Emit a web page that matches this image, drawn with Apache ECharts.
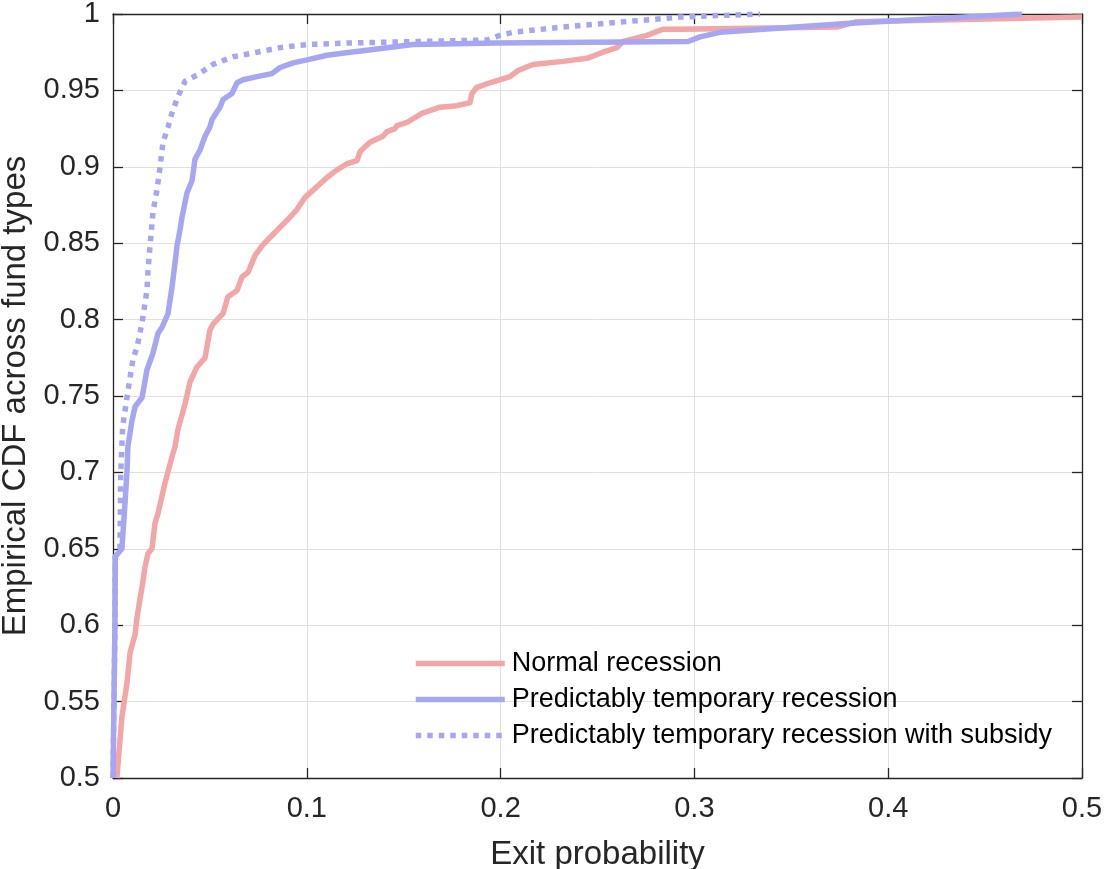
<!DOCTYPE html>
<html>
<head>
<meta charset="utf-8">
<script src="https://cdn.jsdelivr.net/npm/echarts@6/dist/echarts.min.js"></script>
<style>
  html, body { margin: 0; padding: 0; background: #ffffff; }
  #chart { width: 1104px; height: 869px; }
</style>
</head>
<body>
<div id="chart"></div>
<script>
// ---- Data ----
const seriesNames = [
  'Normal recession',
  'Predictably temporary recession',
  'Predictably temporary recession with subsidy'
];

const normalX = [0.0020, 0.0046, 0.0072, 0.0088, 0.0114, 0.0124, 0.0139, 0.0150, 0.0165, 0.0181,
  0.0201, 0.0217, 0.0232, 0.0268, 0.0304, 0.0320, 0.0335, 0.0372, 0.0397, 0.0433,
  0.0475, 0.0500, 0.0516, 0.0568, 0.0593, 0.0640, 0.0666, 0.0697, 0.0733, 0.0774,
  0.0851, 0.0898, 0.0949, 0.0991, 0.1053, 0.1104, 0.1156, 0.1207, 0.1259, 0.1275,
  0.1326, 0.1393, 0.1414, 0.1455, 0.1465, 0.1517, 0.1594, 0.1687, 0.1775, 0.1842,
  0.1852, 0.1878, 0.1945, 0.2048, 0.2090, 0.2167, 0.2322, 0.2446, 0.2528, 0.2600,
  0.2632, 0.2755, 0.2838, 0.2926, 0.3736, 0.3839, 0.5000];
const normalY = [0.500, 0.540, 0.562, 0.582, 0.594, 0.605, 0.617, 0.625, 0.638, 0.647,
  0.650, 0.667, 0.673, 0.693, 0.710, 0.717, 0.728, 0.745, 0.759, 0.769,
  0.775, 0.793, 0.797, 0.804, 0.815, 0.819, 0.828, 0.831, 0.842, 0.849,
  0.859, 0.865, 0.872, 0.880, 0.887, 0.893, 0.898, 0.902, 0.904, 0.910,
  0.916, 0.920, 0.923, 0.925, 0.927, 0.929, 0.935, 0.939, 0.940, 0.942,
  0.948, 0.952, 0.955, 0.959, 0.963, 0.967, 0.969, 0.971, 0.975, 0.978,
  0.982, 0.986, 0.990, 0.990, 0.9915, 0.995, 0.998];

const tempX = [0.0000, 0.0010, 0.0012, 0.0046, 0.0062, 0.0072, 0.0077, 0.0098, 0.0114, 0.0150,
  0.0175, 0.0206, 0.0232, 0.0253, 0.0284, 0.0304, 0.0320, 0.0330, 0.0346, 0.0356,
  0.0382, 0.0408, 0.0423, 0.0449, 0.0475, 0.0500, 0.0511, 0.0552, 0.0568, 0.0614,
  0.0640, 0.0671, 0.0743, 0.0820, 0.0862, 0.0929, 0.1001, 0.1104, 0.1223, 0.1290,
  0.1548, 0.1981, 0.2967, 0.3029, 0.3132, 0.3803, 0.4690];
const tempY = [0.500, 0.600, 0.645, 0.650, 0.680, 0.700, 0.717, 0.734, 0.743, 0.749,
  0.767, 0.778, 0.791, 0.795, 0.804, 0.821, 0.837, 0.848, 0.859, 0.867,
  0.883, 0.891, 0.905, 0.911, 0.920, 0.926, 0.931, 0.939, 0.944, 0.948,
  0.955, 0.957, 0.959, 0.961, 0.965, 0.968, 0.970, 0.973, 0.975, 0.976,
  0.980, 0.981, 0.982, 0.985, 0.988, 0.994, 1.000];

const subsidyX = [0.0000, 0.0010, 0.0012, 0.0036, 0.0040, 0.0050, 0.0072, 0.0088, 0.0103, 0.0124,
  0.0139, 0.0155, 0.0175, 0.0181, 0.0191, 0.0206, 0.0227, 0.0243, 0.0258, 0.0284,
  0.0304, 0.0335, 0.0372, 0.0433, 0.0516, 0.0619, 0.0743, 0.0862, 0.1001, 0.1207,
  0.1930, 0.1997, 0.2064, 0.2322, 0.2926, 0.3339];
const subsidyY = [0.500, 0.600, 0.645, 0.650, 0.700, 0.730, 0.749, 0.762, 0.774, 0.782,
  0.791, 0.802, 0.819, 0.833, 0.848, 0.870, 0.885, 0.900, 0.916, 0.926,
  0.935, 0.946, 0.956, 0.960, 0.967, 0.972, 0.975, 0.978, 0.980, 0.981,
  0.983, 0.986, 0.988, 0.9915, 0.998, 1.000];

const xTicks = { min: 0, max: 0.5, interval: 0.1 };
const yTicks = { min: 0.5, max: 1, interval: 0.05 };
const axisTitles = { x: 'Exit probability', y: 'Empirical CDF across fund types' };

// ---- Build ----
const zip = (xs, ys) => xs.map((x, i) => [x, ys[i]]);
const FONT = '"Liberation Sans", Arial, Helvetica, sans-serif';
const AX = '#262626';
const RED = '#F2A6A6';
const BLUE = '#A6A6F2';
const LW = 5.5;

const chart = echarts.init(document.getElementById('chart'), null, { renderer: 'canvas' });

const baseAxis = (t) => ({
  type: 'value',
  min: t.min, max: t.max, interval: t.interval,
  axisLine: { show: true, onZero: false, lineStyle: { color: AX, width: 1.3 } },
  axisTick: { show: true, inside: true, length: 10, lineStyle: { color: AX, width: 1.3 } }
});

chart.setOption({
  animation: false,
  backgroundColor: '#ffffff',
  grid: { left: 113, right: 22, top: 14, bottom: 91, containLabel: false, outerBoundsMode: 'none' },
  xAxis: [
    Object.assign(baseAxis(xTicks), {
      position: 'bottom',
      name: axisTitles.x, nameLocation: 'middle', nameGap: 60,
      nameTextStyle: { fontFamily: FONT, fontSize: 33, color: AX },
      axisLabel: { fontFamily: FONT, fontSize: 29, color: AX, margin: 16 },
      splitLine: { show: true, lineStyle: { color: '#e0e0e0', width: 1 } }
    }),
    Object.assign(baseAxis(xTicks), {
      position: 'top',
      axisLabel: { show: false },
      splitLine: { show: false }
    })
  ],
  yAxis: [
    Object.assign(baseAxis(yTicks), {
      position: 'left',
      name: axisTitles.y, nameLocation: 'middle', nameGap: 73, nameRotate: 90,
      nameTextStyle: { fontFamily: FONT, fontSize: 33, color: AX },
      axisLabel: { fontFamily: FONT, fontSize: 29, color: AX, margin: 13 },
      splitLine: { show: true, lineStyle: { color: '#e0e0e0', width: 1 } }
    }),
    Object.assign(baseAxis(yTicks), {
      position: 'right',
      axisLabel: { show: false },
      splitLine: { show: false }
    })
  ],
  legend: {
    orient: 'vertical',
    left: 413, top: 650,
    itemWidth: 89, itemHeight: 26, itemGap: 9,
    padding: 0,
    data: seriesNames,
    itemStyle: { opacity: 0 },
    lineStyle: { width: LW },
    textStyle: { fontFamily: FONT, fontSize: 27, color: '#000000', lineHeight: 26, padding: [0, 0, 0, 2] }
  },
  series: [
    {
      name: seriesNames[0], type: 'line', data: zip(normalX, normalY),
      symbol: 'none', showSymbol: false, xAxisIndex: 0, yAxisIndex: 0,
      lineStyle: { color: RED, width: LW, join: 'round' }, itemStyle: { color: RED }, z: 3
    },
    {
      name: seriesNames[1], type: 'line', data: zip(tempX, tempY),
      symbol: 'none', showSymbol: false, xAxisIndex: 0, yAxisIndex: 0,
      lineStyle: { color: BLUE, width: LW, join: 'round' }, itemStyle: { color: BLUE }, z: 4
    },
    {
      name: seriesNames[2], type: 'line', data: zip(subsidyX, subsidyY),
      symbol: 'none', showSymbol: false, xAxisIndex: 0, yAxisIndex: 0,
      lineStyle: { color: BLUE, width: LW, type: [5.5, 6], cap: 'butt' }, itemStyle: { color: BLUE }, z: 5
    }
  ]
});
</script>
</body>
</html>
